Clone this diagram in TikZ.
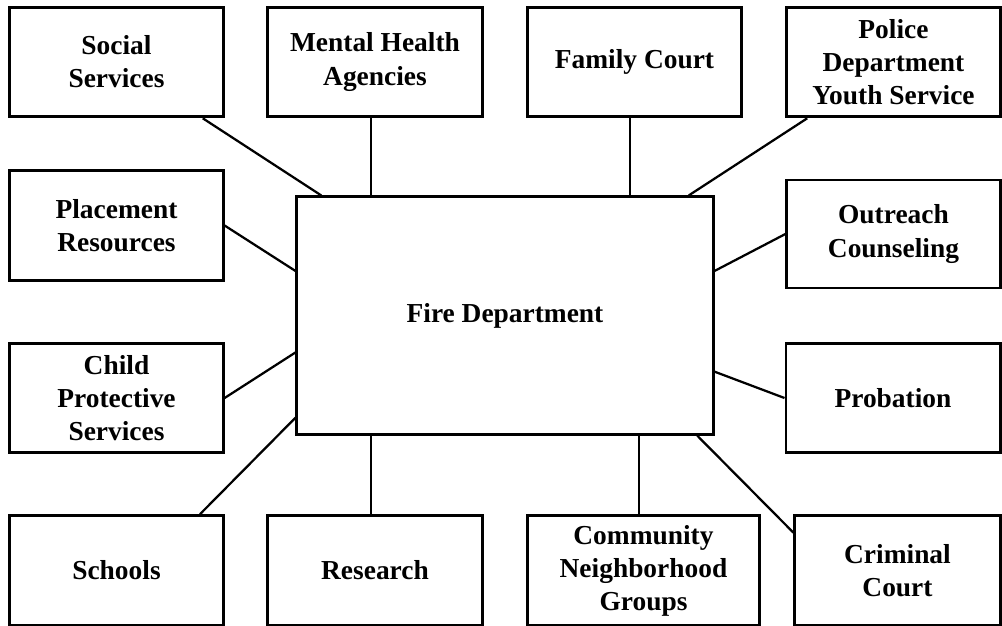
\documentclass[tikz,border=0pt]{standalone}
\usepackage{fontspec}
\setmainfont{Liberation Serif}
\usepackage{tikz}

\begin{document}
\begin{tikzpicture}[x=0.025cm, y=-0.025cm,
    every node/.style={rectangle, draw=black, line width=2.1pt, align=center, inner sep=2pt,
        minimum width=5.33cm, minimum height=2.74cm,
        font=\fontsize{19.5}{23.5}\selectfont\bfseries},
    link/.style={line width=1.6pt}]
    \useasboundingbox (0,0) rectangle (1002,626);

    \node (fire) at (505,315.5) [minimum width=10.4cm, minimum height=5.93cm] {Fire Department};

    \node (social) at (116.5,62) {Social\\Services};
    \node (mental) at (375,62) [minimum width=5.35cm] {Mental Health\\Agencies};
    \node (family) at (634.5,62) {Family Court};
    \node (police) at (893.5,62) {Police\\Department\\Youth Service};

    \node (placement) at (116.5,225.5) {Placement\\Resources};
    \node (child) at (116.5,398) {Child\\Protective\\Services};
    \node (outreach) at (893.5,234) [minimum height=2.7cm] {Outreach\\Counseling};
    \node (probation) at (893,398) [minimum width=5.35cm] {Probation};

    \node (schools) at (116.5,570.5) {Schools};
    \node (research) at (375,570.5) [minimum width=5.35cm] {Research};
    \node (community) at (643.5,570.5) [minimum width=5.78cm] {Community\\Neighborhood\\Groups};
    \node (criminal) at (897.5,570.5) [minimum width=5.13cm] {Criminal\\Court};

    \draw[link] (social) -- (fire);
    \draw[link] ([xshift=-0.1cm]mental.south) -- ([xshift=-0.1cm]mental.south |- fire.north);
    \draw[link] ([xshift=-0.11cm]family.south) -- ([xshift=-0.11cm]family.south |- fire.north);
    \draw[link] (police) -- (fire);
    \draw[link] (placement.east) -- (fire.168);
    \draw[link] (child.east) -- (fire.190);
    \draw[link] (outreach.west) -- (fire.12.6);
    \draw[link] (probation.west) -- (fire.345);
    \draw[link] (schools.34) -- (fire.206);
    \draw[link] ([xshift=-0.1cm]research.north) -- ([xshift=-0.1cm]research.north |- fire.south);
    \draw[link] ([xshift=-0.11cm]community.north) -- ([xshift=-0.11cm]community.north |- fire.south);
    \draw[link] (criminal.160) -- (fire.328);
\end{tikzpicture}
\end{document}
